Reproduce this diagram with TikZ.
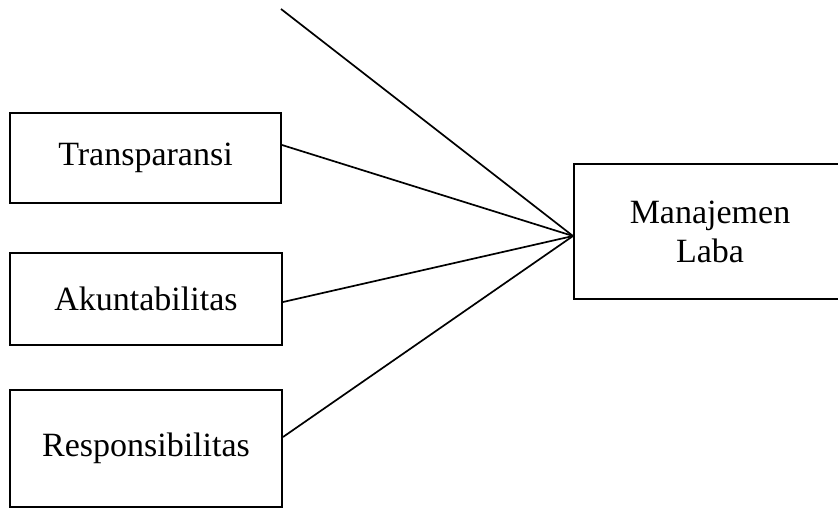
\documentclass[tikz,border=0pt]{standalone}
\usepackage{fontspec}
\setmainfont{Liberation Serif}
\begin{document}
\begin{tikzpicture}[x=0.5pt,y=-0.5pt,
  box/.style={draw=black,line width=1pt,rectangle,inner sep=0pt,
    font=\fontsize{17pt}{19.5pt}\selectfont,align=center},
  link/.style={draw=black,line width=0.85pt}]
\useasboundingbox (0,0) rectangle (838,508);
\clip (0,0) rectangle (838,508);
\node[box,minimum width=135.5pt,minimum height=45pt] (t) at (145.5,158) {Transparansi};
\node[box,minimum width=136pt,minimum height=46pt] (a) at (146,299) {Akuntabilitas};
\node[box,minimum width=136pt,minimum height=58.5pt] (r) at (146,448.5) {Responsibilitas};
\node[box,minimum width=136pt,minimum height=67.5pt] (m) at (710,231.5) {Manajemen\\Laba};
\coordinate (top) at (281,9);
\coordinate (hub) at ([yshift=-2.25pt]m.west);
\draw[link] (top) -- (hub);
\draw[link] ([yshift=6.5pt]t.east) -- (hub);
\draw[link] ([yshift=-1.5pt]a.east) -- (hub);
\draw[link] ([yshift=5.75pt]r.east) -- (hub);
\end{tikzpicture}
\end{document}
